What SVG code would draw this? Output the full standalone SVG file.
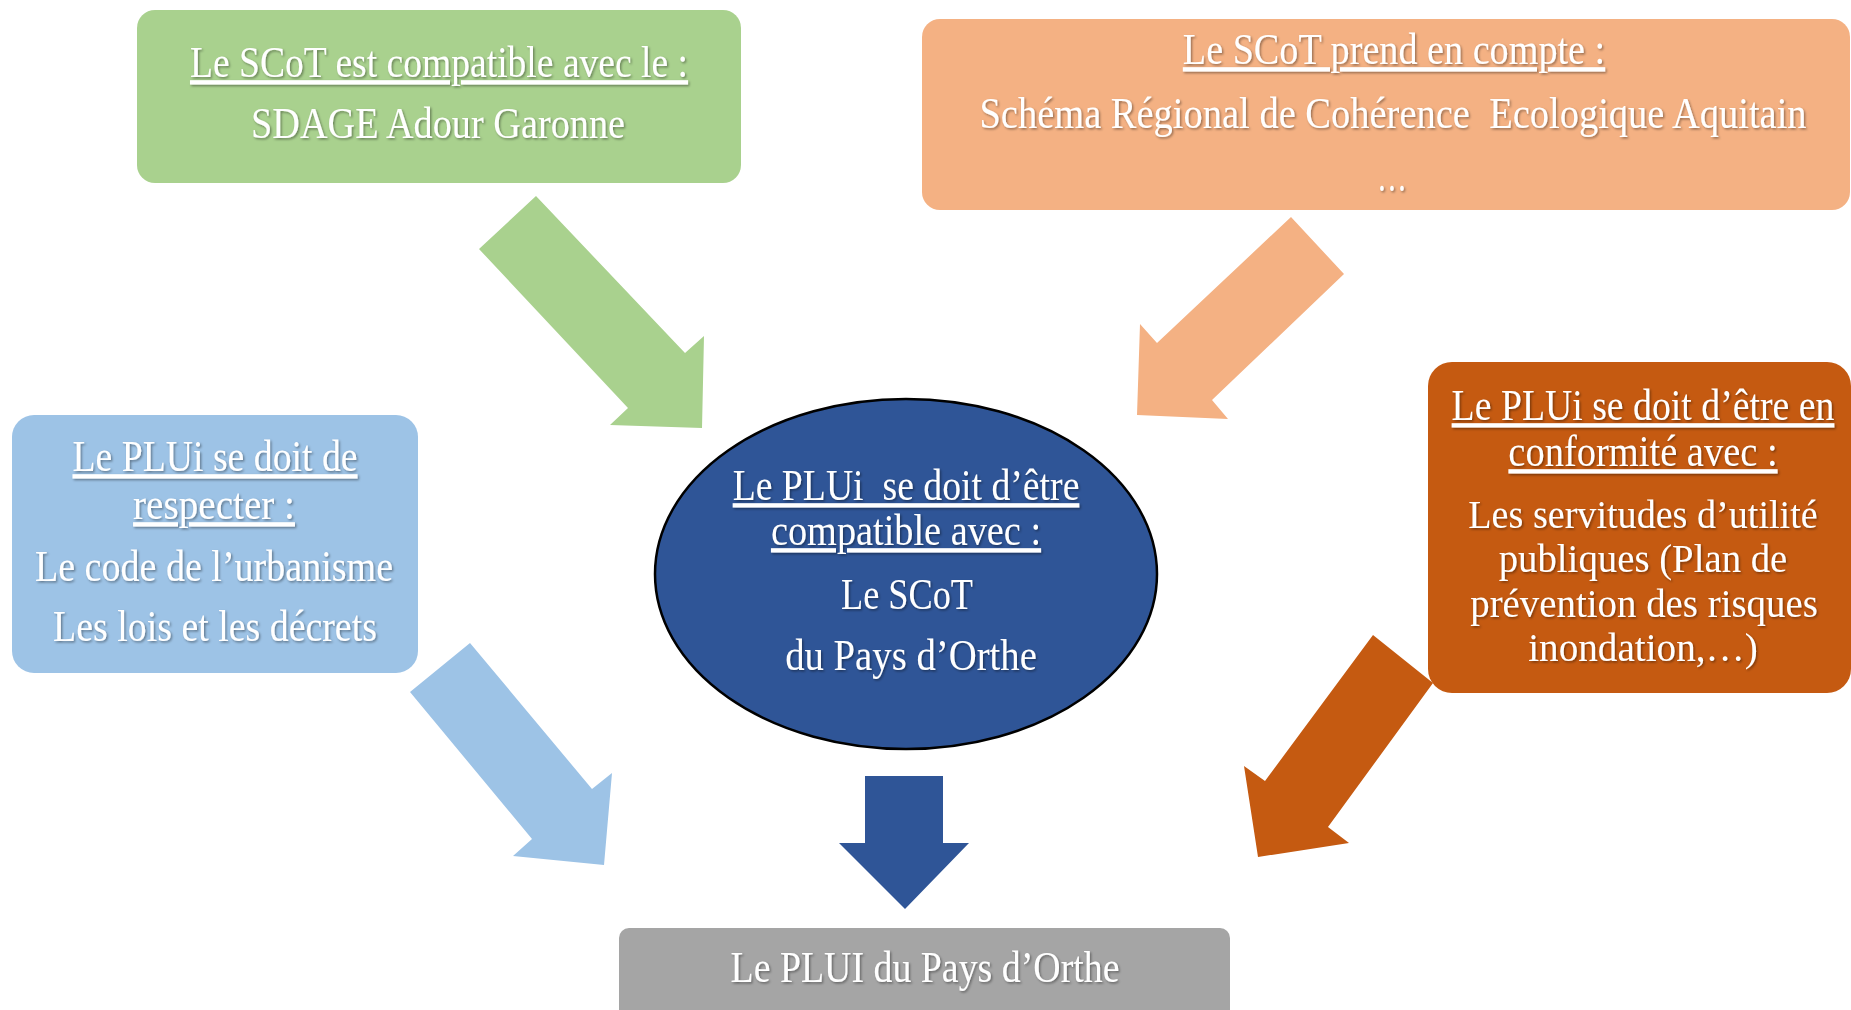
<svg xmlns="http://www.w3.org/2000/svg" width="1851" height="1010" viewBox="0 0 1851 1010">
<defs>
<filter id="ts" x="-5%" y="-30%" width="110%" height="160%">
<feDropShadow dx="1.5" dy="1.5" stdDeviation="1" flood-color="#000" flood-opacity="0.4"/>
</filter>
<style>
text{font-family:"Liberation Serif","DejaVu Serif",serif;font-size:44px;fill:#fff;text-anchor:middle;filter:url(#ts);white-space:pre}
.u{text-decoration:underline}
.s{font-size:41px}
</style>
</defs>
<rect width="1851" height="1010" fill="#fff"/>
<g id="connectors">
<polygon fill="#A9D18E" points="536,196 685,353 704,336 702,428 610,425 628,408 479,249"/>
<polygon fill="#F4B183" points="1291,217 1344,274 1212,400 1228,419 1137,415 1140,324 1157,343"/>
<polygon fill="#9DC3E6" points="470,643 592,789 612,773 604,865 513,856 532,839 410,692"/>
<polygon fill="#C55A11" points="1373,635 1433,683 1328,827 1349,843 1258,857 1244,766 1265,781"/>
<polygon fill="#2F5597" points="865,776 943,776 943,843 969,843 905,909 839,843 865,843"/>
</g>
<g id="node-sdage">
<rect x="137" y="10" width="604" height="173" rx="18" fill="#A9D18E"/>
<text class="u" x="0" y="0" transform="translate(439,77) scale(0.88,1)" textLength="566" lengthAdjust="spacingAndGlyphs">Le SCoT est compatible avec le :</text>
<text x="0" y="0" transform="translate(438,138) scale(0.88,1)" textLength="425" lengthAdjust="spacingAndGlyphs">SDAGE Adour Garonne</text>
</g>
<g id="node-srce">
<rect x="922" y="19" width="928" height="191" rx="18" fill="#F4B183"/>
<text class="u" x="0" y="0" transform="translate(1394,64) scale(0.88,1)" textLength="480" lengthAdjust="spacingAndGlyphs">Le SCoT prend en compte :</text>
<text x="0" y="0" transform="translate(1393,128) scale(0.88,1)" textLength="940" lengthAdjust="spacingAndGlyphs">Schéma Régional de Cohérence  Ecologique Aquitain</text>
<text x="0" y="0" transform="translate(1392,191) scale(0.88,1)" textLength="34" lengthAdjust="spacingAndGlyphs">…</text>
</g>
<g id="node-code">
<rect x="12" y="415" width="406" height="258" rx="22" fill="#9DC3E6"/>
<text class="u" x="0" y="0" transform="translate(215,471) scale(0.88,1)" textLength="324" lengthAdjust="spacingAndGlyphs">Le PLUi se doit de</text>
<text class="u" x="0" y="0" transform="translate(214,519) scale(0.88,1)" textLength="184" lengthAdjust="spacingAndGlyphs">respecter :</text>
<text x="0" y="0" transform="translate(214,581) scale(0.88,1)" textLength="407" lengthAdjust="spacingAndGlyphs">Le code de l’urbanisme</text>
<text x="0" y="0" transform="translate(215,641) scale(0.88,1)" textLength="368" lengthAdjust="spacingAndGlyphs">Les lois et les décrets</text>
</g>
<g id="node-servitudes">
<rect x="1428" y="362" width="423" height="331" rx="24" fill="#C55A11"/>
<text class="u" x="0" y="0" transform="translate(1643,420) scale(0.88,1)" textLength="435" lengthAdjust="spacingAndGlyphs">Le PLUi se doit d’être en</text>
<text class="u" x="0" y="0" transform="translate(1643,466) scale(0.88,1)" textLength="306" lengthAdjust="spacingAndGlyphs">conformité avec :</text>
<text class="s" x="0" y="0" transform="translate(1643,528) scale(0.88,1)" textLength="397" lengthAdjust="spacingAndGlyphs">Les servitudes d’utilité</text>
<text class="s" x="0" y="0" transform="translate(1643,572) scale(0.88,1)" textLength="328" lengthAdjust="spacingAndGlyphs">publiques (Plan de</text>
<text class="s" x="0" y="0" transform="translate(1644,617) scale(0.88,1)" textLength="395" lengthAdjust="spacingAndGlyphs">prévention des risques</text>
<text class="s" x="0" y="0" transform="translate(1643,661) scale(0.88,1)" textLength="261" lengthAdjust="spacingAndGlyphs">inondation,…)</text>
</g>
<g id="node-scot">
<ellipse cx="906" cy="574" rx="251" ry="175" fill="#2F5597" stroke="#000" stroke-width="2.5"/>
<text class="u" x="0" y="0" transform="translate(906,500) scale(0.88,1)" textLength="394" lengthAdjust="spacingAndGlyphs">Le PLUi  se doit d’être</text>
<text class="u" x="0" y="0" transform="translate(906,545) scale(0.88,1)" textLength="307" lengthAdjust="spacingAndGlyphs">compatible avec :</text>
<text x="0" y="0" transform="translate(907,609) scale(0.88,1)" textLength="150" lengthAdjust="spacingAndGlyphs">Le SCoT</text>
<text x="0" y="0" transform="translate(911,670) scale(0.88,1)" textLength="286" lengthAdjust="spacingAndGlyphs">du Pays d’Orthe</text>
</g>
<g id="node-plui">
<rect x="619" y="928" width="611" height="100" rx="10" fill="#A5A5A5"/>
<text x="0" y="0" transform="translate(925,982) scale(0.88,1)" textLength="442" lengthAdjust="spacingAndGlyphs">Le PLUI du Pays d’Orthe</text>
</g>
</svg>
